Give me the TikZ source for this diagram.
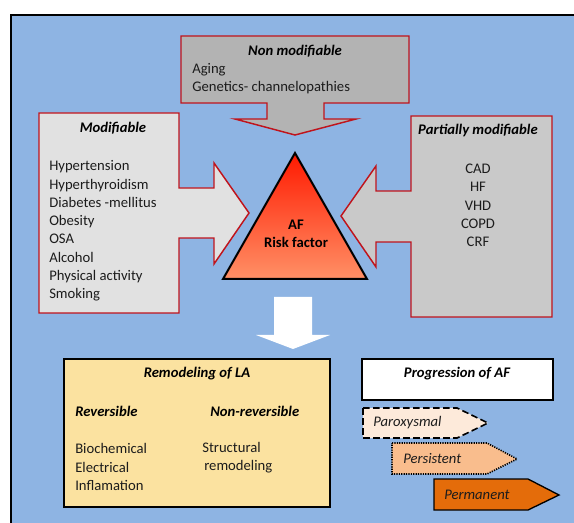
\documentclass[tikz,border=0pt]{standalone}
\usepackage{fontspec}
\setmainfont{Carlito}
\usepackage{tikz}
\usetikzlibrary{arrows.meta}

\definecolor{bgblue}{HTML}{8EB4E3}
\definecolor{boxred}{HTML}{C0141C}
\definecolor{greydark}{HTML}{B3B3B3}
\definecolor{greylight}{HTML}{E1E1E1}
\definecolor{greymid}{HTML}{C9C9C9}
\definecolor{remodel}{HTML}{FBE2A0}
\definecolor{parox}{HTML}{FDEADA}
\definecolor{persist}{HTML}{F9BD8D}
\definecolor{perman}{HTML}{E46C0A}
\definecolor{txt}{HTML}{1C1C1C}

\begin{document}
\begin{tikzpicture}[x=0.75pt,y=-0.75pt,
    every node/.style={font=\fontsize{11}{13.7}\selectfont,text=txt,inner sep=0pt},
    callout/.style={draw=boxred,line width=1.1pt,line join=miter},
    heading/.style={font=\fontsize{11}{13.7}\selectfont\bfseries\itshape,text=black},
    stage/.style={font=\fontsize{11}{13.7}\selectfont\itshape,anchor=west}]
		\useasboundingbox (0,0) rectangle (574,523);
		\fill[white] (0,0) rectangle (574,523);
		\begin{scope}
		    \clip (0,0) rectangle (574,523);
		    \draw[fill=bgblue,line width=1.2pt] (11,15) rectangle (580,530);
		\end{scope}

		% the three groups of risk factors
		\begin{scope}[callout]
		    \draw[fill=greydark] (181,36) -- (409,36) -- (409,103) -- (324,103) -- (324,119) -- (356,119)
		        -- (295,135) -- (235,119) -- (267,119) -- (267,103) -- (181,103) -- cycle;
		    \draw[fill=greylight] (39,113) -- (179,113) -- (179,188) -- (214,188) -- (214,163) -- (249,213)
		        -- (214,264) -- (214,238) -- (179,238) -- (179,313) -- (39,313) -- cycle;
		    \draw[fill=greymid] (552,116) -- (411,116) -- (411,191) -- (376,191) -- (376,166) -- (341,216)
		        -- (376,267) -- (376,242) -- (411,242) -- (411,317) -- (552,317) -- cycle;
		\end{scope}

		\draw[line width=1.5pt,line join=miter,top color=red!80!orange,bottom color=red!45!orange!60!white]
		    (295,153) -- (367,279) -- (223,279) -- cycle;
		\fill[white] (274,297) -- (312,297) -- (312,335) -- (330,335) -- (293,349) -- (256,335) -- (274,335) -- cycle;

		\draw[fill=remodel,line width=0.8pt] (64,359) rectangle (330,507);
		\draw[fill=white,line width=0.8pt] (362,359) rectangle (553,400);

		% progression arrows
		\draw[fill=parox,line width=1.2pt,dash pattern=on 5pt off 2.5pt]
		    (363,408) -- (457,408) -- (488,423) -- (457,438) -- (363,438) -- cycle;
		\draw[fill=persist,line width=1.2pt,dash pattern=on 0.9pt off 0.9pt]
		    (392,443) -- (487,443) -- (517,459) -- (487,474) -- (392,474) -- cycle;
		\draw[fill=perman,line width=1pt]
		    (434,479) -- (528,479) -- (559,495) -- (528,510) -- (434,510) -- cycle;

		\node[heading] (nonmod) at (295,51) {Non modifiable};
		\node[anchor=west,align=left] (nonmodlist) at (192,78.5) {Aging\\Genetics- channelopathies};
		\node[heading] (mod) at (113,128) {Modifiable};
		\node[anchor=west,align=left] (modlist) at (49,231) {Hypertension\\Hyperthyroidism\\Diabetes -mellitus\\Obesity\\OSA\\Alcohol\\Physical activity\\Smoking};
		\node[heading] (partmod) at (478,131) {Partially modifiable};
		\node[align=center] (partlist) at (478,205.5) {CAD\\HF\\VHD\\COPD\\CRF};
		\node[align=center,font=\fontsize{11}{13.7}\selectfont\bfseries,text=black] (af) at (296,233.5) {AF\\Risk factor};

		\node[heading] (remod) at (197,374) {Remodeling of LA};
		\node[heading,anchor=west] (rev) at (75,411) {Reversible};
		\node[heading,anchor=west] (nonrev) at (210,411) {Non-reversible};
		\node[anchor=west,align=left] (revlist) at (75,467) {Biochemical\\Electrical\\Inflamation};
		\node[anchor=west,align=left] (nonrevlist) at (202,458) {Structural\\\hspace{1.5pt}remodeling};

		\node[heading] (prog) at (457,374) {Progression of AF};
		\node[stage] (parx) at (373,423) {Paroxysmal};
		\node[stage] (pers) at (403,459) {Persistent};
		\node[stage] (perm) at (444,495) {Permanent};
\end{tikzpicture}
\end{document}
